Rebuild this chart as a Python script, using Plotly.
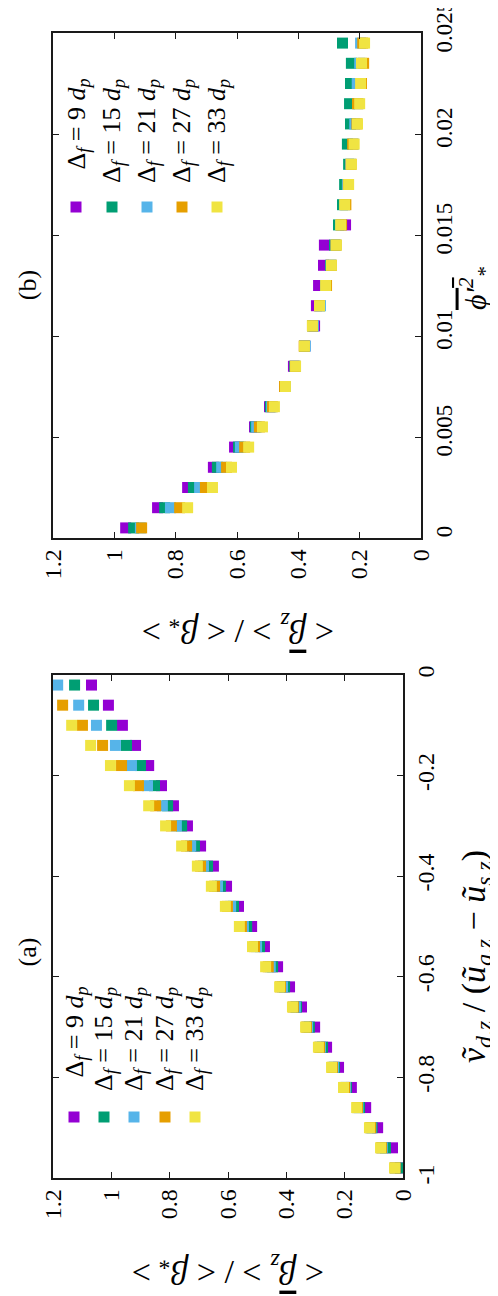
import plotly.graph_objects as go

W, H = 498, 1296
OFF = 8  # default page body margin compensation

# ---------------- data ----------------
series_labels = ["9", "15", "21", "27", "33"]
series_colors = ["#9400D3", "#009E73", "#56B4E9", "#E69F00", "#F0E442"]

# Panel (b): <beta_z>/<beta*> vs filtered phi'^2
phi_b = [0.0005, 0.0015, 0.0025, 0.0035, 0.0045, 0.0055, 0.0065, 0.0075, 0.0085,
         0.0095, 0.0105, 0.0115, 0.0125, 0.0135, 0.0145, 0.0155, 0.0165, 0.0175,
         0.0185, 0.0195, 0.0205, 0.0215, 0.0225, 0.0235, 0.0245]
b_9 = [0.963, 0.859, 0.761, 0.677, 0.608, 0.543, 0.494, 0.443, 0.416, 0.379, 0.347,
       0.341, 0.334, 0.318, 0.315, 0.246, None, None, None, None, None, None, None,
       None, None]
b_15 = [0.937, 0.836, 0.742, 0.664, 0.595, 0.540, 0.491, 0.443, 0.412, 0.380, 0.353,
        0.330, 0.310, 0.295, 0.282, 0.269, 0.256, 0.249, 0.236, 0.240, 0.230, 0.233,
        0.230, 0.227, 0.256]
b_21 = [0.915, 0.817, 0.722, 0.650, 0.589, 0.536, 0.487, 0.443, 0.410, 0.377, 0.351,
        0.328, 0.310, 0.293, 0.278, 0.262, 0.248, 0.240, 0.230, 0.220, 0.216, 0.205,
        0.208, 0.200, 0.197]
b_27 = [0.911, 0.787, 0.703, 0.634, 0.575, 0.527, 0.484, 0.445, 0.410, 0.381, 0.354,
        0.331, 0.308, 0.292, 0.277, 0.259, 0.245, 0.237, 0.228, 0.223, 0.209, 0.207,
        0.194, 0.187, 0.190]
b_33 = [None, 0.761, 0.680, 0.618, 0.562, 0.517, 0.478, 0.442, 0.409, 0.380, 0.354,
        0.331, 0.311, 0.292, 0.276, 0.262, 0.249, 0.236, 0.227, 0.218, 0.207, 0.200,
        0.197, 0.194, 0.184]

# Panel (a): <beta_z>/<beta*> vs drift velocity ratio
vel_a = [-0.98, -0.94, -0.90, -0.86, -0.82, -0.78, -0.74, -0.70, -0.66, -0.62, -0.58,
         -0.54, -0.50, -0.46, -0.42, -0.38, -0.34, -0.30, -0.26, -0.22, -0.18, -0.14,
         -0.10, -0.06, -0.02]
a_9 = [0.009, 0.036, 0.087, 0.128, 0.177, 0.221, 0.262, 0.303, 0.348, 0.389, 0.430,
       0.475, 0.519, 0.564, 0.605, 0.650, 0.694, 0.739, 0.787, 0.828, 0.872, 0.917,
       0.962, 1.010, 1.068]
a_15 = [0.009, 0.060, 0.106, 0.149, 0.194, 0.235, 0.276, 0.321, 0.365, 0.406, 0.447,
        0.492, 0.536, 0.581, 0.626, 0.670, 0.715, 0.759, 0.807, 0.852, 0.900, 0.948,
        0.999, 1.061, 1.126]
a_21 = [0.026, 0.071, 0.110, 0.154, 0.197, 0.238, 0.283, 0.327, 0.369, 0.413, 0.455,
        0.502, 0.547, 0.591, 0.636, 0.684, 0.728, 0.777, 0.825, 0.876, 0.931, 0.986,
        1.051, 1.112, 1.184]
a_27 = [0.027, 0.074, 0.111, 0.156, 0.200, 0.242, 0.286, 0.331, 0.376, 0.420, 0.462,
        0.509, 0.554, 0.602, 0.646, 0.694, 0.742, 0.794, 0.848, 0.907, 0.965, 1.030,
        1.099, 1.167, 1.240]
a_33 = [0.029, 0.077, 0.115, 0.159, 0.204, 0.245, 0.290, 0.334, 0.379, 0.423, 0.471,
        0.516, 0.561, 0.609, 0.657, 0.705, 0.759, 0.814, 0.872, 0.938, 1.003, 1.071,
        1.136, 1.230, 1.270]

beta_ticks = [0, 0.2, 0.4, 0.6, 0.8, 1, 1.2]
beta_ticktext = ["0", "0.2", "0.4", "0.6", "0.8", "1", "1.2"]
phi_ticks = [0, 0.005, 0.01, 0.015, 0.02, 0.025]
phi_ticktext = ["0", "0.005", "0.01", "0.015", "0.02", "0.025"]
vel_ticks = [-1, -0.8, -0.6, -0.4, -0.2, 0]
vel_ticktext = ["-1", "-0.8", "-0.6", "-0.4", "-0.2", "0"]

# ---------------- layout helpers ----------------
FONT = "Liberation Serif"


def px(x):
    return (x - OFF) / W


def py(y):
    return 1 - (y - OFF) / H


frame_b = dict(x0=53, x1=421, y0=33, y1=538)
frame_a = dict(x0=53, x1=403, y0=675, y1=1178)

fig = go.Figure()

panel_b = [b_9, b_15, b_21, b_27, b_33]
panel_a = [a_9, a_15, a_21, a_27, a_33]

for lab, col, vals in zip(series_labels, series_colors, panel_b):
    fig.add_trace(go.Scatter(x=vals, y=phi_b, mode="markers", xaxis="x", yaxis="y",
                             marker=dict(symbol="square", size=11, color=col, line=dict(width=0)),
                             name=lab, showlegend=False, cliponaxis=True))
for lab, col, vals in zip(series_labels, series_colors, panel_a):
    fig.add_trace(go.Scatter(x=vals, y=vel_a, mode="markers", xaxis="x2", yaxis="y2",
                             marker=dict(symbol="square", size=11, color=col, line=dict(width=0)),
                             name=lab, showlegend=False, cliponaxis=True))

axis_common = dict(showgrid=False, zeroline=False, showline=True, linecolor="#1a1a1a",
                   linewidth=1.5, mirror="ticks", ticks="inside", ticklen=6, tickwidth=1,
                   tickcolor="#1a1a1a", tickangle=-90, automargin=False,
                   ticklabeloverflow="allow",
                   tickfont=dict(family=FONT, size=24, color="black"))

fig.update_layout(
    width=W, height=H, margin=dict(l=0, r=0, t=0, b=0, pad=0, autoexpand=False),
    paper_bgcolor="white", plot_bgcolor="white", showlegend=False,
    xaxis=dict(axis_common, domain=[px(frame_b["x0"]), px(frame_b["x1"])],
               range=[1.2, 0], tickvals=beta_ticks, ticktext=beta_ticktext,
               anchor="y", side="bottom", ticklabelstandoff=0),
    yaxis=dict(axis_common, domain=[py(frame_b["y1"]), py(frame_b["y0"])],
               range=[0, 0.025], tickvals=phi_ticks, ticktext=phi_ticktext,
               anchor="x", side="right", ticklabelstandoff=2, ticklabelshift=-3,
               tickfont=dict(family=FONT, size=23, color="black")),
    xaxis2=dict(axis_common, domain=[px(frame_a["x0"]), px(frame_a["x1"])],
                range=[1.2, 0], tickvals=beta_ticks, ticktext=beta_ticktext,
                anchor="y2", side="bottom", ticklabelstandoff=0),
    yaxis2=dict(axis_common, domain=[py(frame_a["y1"]), py(frame_a["y0"])],
                range=[-1, 0], tickvals=vel_ticks, ticktext=vel_ticktext,
                anchor="x2", side="right", ticklabelstandoff=0),
)

annotations = []
shapes = []


def ann(text, x, y, angle, size=24, xanchor="center", yanchor="middle"):
    annotations.append(dict(text=text, x=px(x), y=py(y), xref="paper", yref="paper",
                            showarrow=False, textangle=angle, xanchor=xanchor,
                            yanchor=yanchor, borderpad=0,
                            font=dict(family=FONT, size=size, color="black")))


def box_label(text, x0, x1, y0, y1, size=26):
    # invisible box whose centred, rotated label gives the panel tag
    shapes.append(dict(type="rect", xref="paper", yref="paper",
                       x0=px(x0), x1=px(x1), y0=py(y1), y1=py(y0),
                       line=dict(width=0), fillcolor="rgba(0,0,0,0)",
                       label=dict(text=text, textangle=-90, textposition="middle center",
                                  font=dict(family=FONT, size=size, color="black"))))


beta_title = ("&lt; <i><span style='text-decoration:overline'>β</span><sub>z</sub></i> &gt;"
              " / &lt; <i>β<sub>*</sub></i> &gt;")
ann(beta_title, 238, 629, 180, size=34)
ann(beta_title, 228, 1270, 180, size=34)

phi_title = "<i><span style='text-decoration:overline'>ϕ′<sup>2</sup></span><sub>*</sub></i>"
ann(phi_title, 476, 288, -90, size=30)

vel_title = ("<i>ṽ<sub>d,z</sub></i> / (<i>ũ<sub>g,z</sub></i> − <i>ũ<sub>s,z</sub></i>)")
ann(vel_title, 476, 957, -90, size=34)

box_label("(b)", 10, 38, 265, 305)
box_label("(a)", 10, 38, 932, 972)

# legends (manually rotated keys)
leg_b_x = [76, 112, 147, 182, 217]
leg_a_x = [74, 104, 134, 165, 195]
for lab, col, xb, xa in zip(series_labels, series_colors, leg_b_x, leg_a_x):
    txt = f"Δ<sub><i>f</i></sub> = {lab} <i>d<sub>p</sub></i>"
    ann(txt, xb + 1, 78, -90, size=26, yanchor="top")
    ann(txt, xa + 1, 986, -90, size=26, yanchor="top")
    for cx, cy in ((xb, 207), (xa, 1117)):
        shapes.append(dict(type="rect", xref="paper", yref="paper",
                           x0=px(cx - 5.5), x1=px(cx + 5.5), y0=py(cy + 5.5), y1=py(cy - 5.5),
                           fillcolor=col, line=dict(width=0)))

fig.update_layout(annotations=annotations, shapes=shapes)
fig.write_html("out.html")
